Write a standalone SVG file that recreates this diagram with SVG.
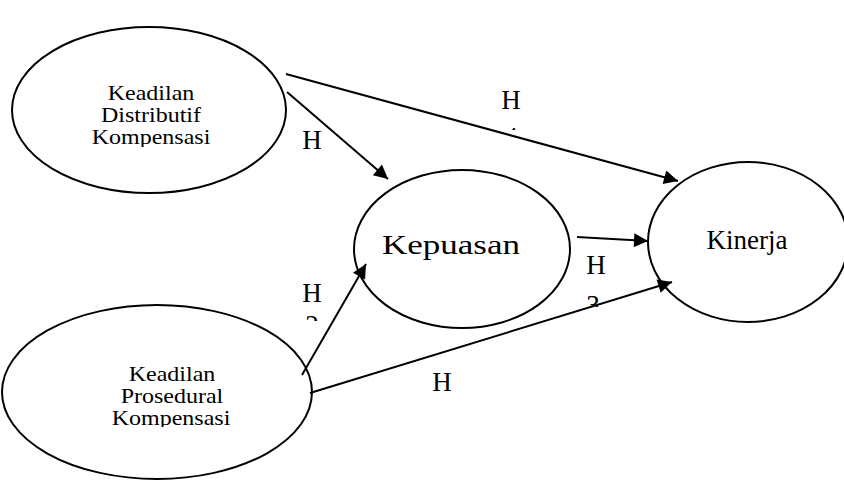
<svg xmlns="http://www.w3.org/2000/svg" width="844" height="480" viewBox="0 0 844 480">
<style>
  .node ellipse { fill: #ffffff; stroke: #000000; stroke-width: 2; }
  text { font-family: "Liberation Serif", "Times New Roman", serif; fill: #000; text-anchor: middle; }
  .small { font-size: 20px; }
  .big { font-size: 27px; }
  .lbl { font-size: 27px; }
  .conn line { stroke: #000; stroke-width: 2; marker-end: url(#arrow); }
</style>
<defs>
  <marker id="arrow" viewBox="0 0 10 10" refX="10" refY="5" markerWidth="8" markerHeight="7" markerUnits="strokeWidth" orient="auto">
    <path d="M0,0 L10,5 L0,10 z" fill="#000"/>
  </marker>
  <clipPath id="clipTop"><rect x="0" y="0" width="320" height="147"/></clipPath>
  <clipPath id="clipBot"><rect x="0" y="300" width="320" height="127"/></clipPath>
  <clipPath id="clip4"><rect x="495" y="118" width="40" height="12"/></clipPath>
  <clipPath id="clip2"><rect x="295" y="305" width="40" height="16"/></clipPath>
  <clipPath id="clip3"><rect x="575" y="288" width="40" height="19"/></clipPath>
</defs>
<rect width="844" height="480" fill="#ffffff"/>

<g id="node-distributif" class="node">
  <ellipse cx="149" cy="110" rx="137" ry="83"/>
  <g clip-path="url(#clipTop)">
    <text class="small" transform="translate(151,100) scale(1.2,1)">Keadilan</text>
    <text class="small" transform="translate(151,122) scale(1.2,1)">Distributif</text>
    <text class="small" transform="translate(151,144) scale(1.2,1)">Kompensasi</text>
  </g>
</g>

<g id="node-prosedural" class="node">
  <ellipse cx="157" cy="392" rx="155" ry="87"/>
  <g clip-path="url(#clipBot)">
    <text class="small" transform="translate(172,381) scale(1.2,1)">Keadilan</text>
    <text class="small" transform="translate(172,403) scale(1.2,1)">Prosedural</text>
    <text class="small" transform="translate(171,425) scale(1.2,1)">Kompensasi</text>
  </g>
</g>

<g id="node-kepuasan" class="node">
  <ellipse cx="462" cy="249" rx="108" ry="79"/>
  <text class="big" x="451" y="254" textLength="138" lengthAdjust="spacingAndGlyphs">Kepuasan</text>
</g>

<g id="node-kinerja" class="node">
  <ellipse cx="748" cy="242" rx="100" ry="80"/>
  <text class="big" x="747" y="249">Kinerja</text>
</g>

<g id="connectors" class="conn">
  <line x1="286" y1="74" x2="678" y2="181"/>
  <line x1="287" y1="92" x2="388" y2="179"/>
  <line x1="577" y1="237" x2="648" y2="241"/>
  <line x1="302" y1="375" x2="366" y2="264"/>
  <line x1="310" y1="393" x2="672" y2="282"/>
</g>

<g id="labels">
  <text class="lbl" x="511" y="109">H</text>
  <text class="lbl" x="511" y="146" clip-path="url(#clip4)">4</text>
  <text class="lbl" x="312" y="149">H</text>
  <text class="lbl" x="312" y="302">H</text>
  <text class="lbl" x="312" y="334" clip-path="url(#clip2)">2</text>
  <text class="lbl" x="596" y="274">H</text>
  <text class="lbl" x="593" y="314" clip-path="url(#clip3)">3</text>
  <text class="lbl" x="442" y="391">H</text>
</g>
</svg>
